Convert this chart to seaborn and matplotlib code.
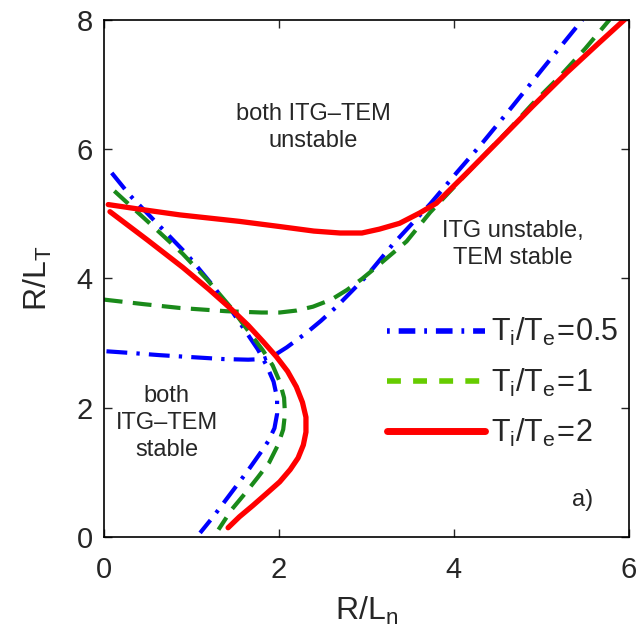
import numpy as np
import pandas as pd
import matplotlib
matplotlib.use('Agg')
import matplotlib.pyplot as plt
from matplotlib.lines import Line2D
import seaborn as sns

# two branches per temperature ratio
# T_i/T_e = 0.5 (blue, dash-dot)
blue_left_x = [0.09, 0.30, 0.60, 0.95, 1.25, 1.47, 1.63, 1.76, 1.86, 1.94, 1.98, 1.98, 1.95, 1.88, 1.78, 1.66, 1.55, 1.40, 1.25, 1.10]
blue_left_y = [5.63, 5.28, 4.86, 4.37, 3.88, 3.48, 3.16, 2.90, 2.65, 2.40, 2.15, 1.90, 1.68, 1.48, 1.28, 1.05, 0.85, 0.58, 0.31, 0.06]
blue_up_x = [0.03, 0.35, 0.64, 1.00, 1.36, 1.65, 1.82, 1.95, 2.09, 2.20, 2.32, 2.48, 2.66, 3.00, 3.30, 3.73, 4.03, 4.33, 4.67, 5.02, 5.47]
blue_up_y = [2.87, 2.84, 2.81, 2.78, 2.75, 2.74, 2.75, 2.81, 2.93, 3.04, 3.16, 3.34, 3.56, 4.03, 4.52, 5.15, 5.63, 6.10, 6.66, 7.25, 8.00]

# T_i/T_e = 1 (green, dashed)
green_left_x = [0.12, 0.50, 0.90, 1.18, 1.45, 1.67, 1.82, 1.93, 2.01, 2.06, 2.07, 2.05, 1.99, 1.89, 1.76, 1.62, 1.46, 1.31]
green_left_y = [5.35, 4.88, 4.38, 3.98, 3.55, 3.15, 2.88, 2.65, 2.40, 2.15, 1.90, 1.66, 1.42, 1.15, 0.92, 0.68, 0.42, 0.11]
green_up_x = [0.00, 0.45, 0.87, 1.40, 1.80, 2.01, 2.20, 2.39, 2.60, 2.78, 2.95, 3.12, 3.46, 3.73, 4.30, 4.61, 4.90, 5.21, 5.50, 5.78]
green_up_y = [3.67, 3.60, 3.54, 3.49, 3.47, 3.47, 3.50, 3.56, 3.67, 3.82, 3.99, 4.18, 4.57, 5.02, 5.84, 6.27, 6.70, 7.12, 7.55, 8.00]

# T_i/T_e = 2 (red, solid)
red_left_x = [0.07, 0.50, 0.90, 1.20, 1.45, 1.65, 1.82, 1.97, 2.10, 2.20, 2.27, 2.31, 2.31, 2.28, 2.22, 2.13, 2.01, 1.86, 1.70, 1.55, 1.42]
red_left_y = [5.03, 4.59, 4.17, 3.83, 3.53, 3.27, 3.02, 2.79, 2.56, 2.32, 2.08, 1.85, 1.62, 1.42, 1.22, 1.04, 0.85, 0.67, 0.48, 0.31, 0.14]
red_up_x = [0.05, 0.45, 0.87, 1.55, 2.01, 2.40, 2.70, 2.95, 3.15, 3.38, 3.61, 3.80, 4.15, 4.53, 4.90, 5.29, 5.65, 5.95]
red_up_y = [5.14, 5.06, 4.98, 4.88, 4.80, 4.73, 4.70, 4.70, 4.76, 4.85, 5.01, 5.16, 5.63, 6.15, 6.66, 7.18, 7.63, 8.00]

labels = [r'$\mathregular{T_i/T_e\!=\!0.5}$', r'$\mathregular{T_i/T_e\!=\!1}$', r'$\mathregular{T_i/T_e\!=\!2}$']

sns.set_style('ticks')
plt.rcParams['font.family'] = ['Liberation Sans', 'DejaVu Sans']
plt.rcParams['mathtext.fontset'] = 'custom'
plt.rcParams['mathtext.rm'] = 'Liberation Sans'
plt.rcParams['mathtext.it'] = 'Liberation Sans:italic'
plt.rcParams['axes.edgecolor'] = 'black'

fig = plt.figure(figsize=(6.41, 6.36), dpi=100)
ax = fig.add_axes([0.162, 0.156, 0.819, 0.813])

blue = '#0000ff'
green = '#1a8a1a'
red = '#ff0000'
dashdot = (0, (5, 2.2, 0.8, 2.2))
dashed = (0, (4.5, 2.5))

for xs, ys in [(blue_left_x, blue_left_y), (blue_up_x, blue_up_y)]:
    sns.lineplot(x=xs, y=ys, sort=False, estimator=None, color=blue, lw=3, linestyle=dashdot, ax=ax)
for xs, ys in [(green_left_x, green_left_y), (green_up_x, green_up_y)]:
    sns.lineplot(x=xs, y=ys, sort=False, estimator=None, color=green, lw=3, linestyle=dashed, ax=ax)
for xs, ys in [(red_left_x, red_left_y), (red_up_x, red_up_y)]:
    sns.lineplot(x=xs, y=ys, sort=False, estimator=None, color=red, lw=3.8, ax=ax)

ax.set_xlim(0, 6)
ax.set_ylim(0, 8)
ax.set_xticks([0, 2, 4, 6])
ax.set_yticks([0, 2, 4, 6, 8])
ax.tick_params(direction='in', top=True, right=True, labelsize=21, length=6, width=1, pad=8)
ax.tick_params(axis='x', pad=14)
for s in ax.spines.values():
    s.set_linewidth(1.2)

ax.set_xlabel(r'$\mathregular{R/L_n}$', fontsize=23, labelpad=8)
ax.set_ylabel(r'$\mathregular{R/L_T}$', fontsize=23, labelpad=16)

ax.text(2.39, 6.33, 'both ITG\u2013TEM\nunstable', ha='center', va='center', fontsize=17, linespacing=1.3)
ax.text(4.67, 4.52, 'ITG unstable,\nTEM stable', ha='center', va='center', fontsize=17, linespacing=1.3)
ax.text(0.72, 1.76, 'both\nITG\u2013TEM\nstable', ha='center', va='center', fontsize=17, linespacing=1.3)
ax.text(5.47, 0.57, 'a)', ha='center', va='center', fontsize=17)

handles = [
    Line2D([], [], color=blue, lw=4, linestyle=(0, (0.5, 1.6, 3, 1.6))),
    Line2D([], [], color='#66cc00', lw=4, linestyle=(0, (2.5, 2.2))),
    Line2D([], [], color=red, lw=5),
]
ax.legend(handles, labels, loc='center left', bbox_to_anchor=(0.539, 0.298), frameon=False,
          fontsize=22, handlelength=3.2, handletextpad=0.2, borderpad=0, borderaxespad=0,
          labelspacing=0.6)

fig.savefig('out.png', dpi=100)
